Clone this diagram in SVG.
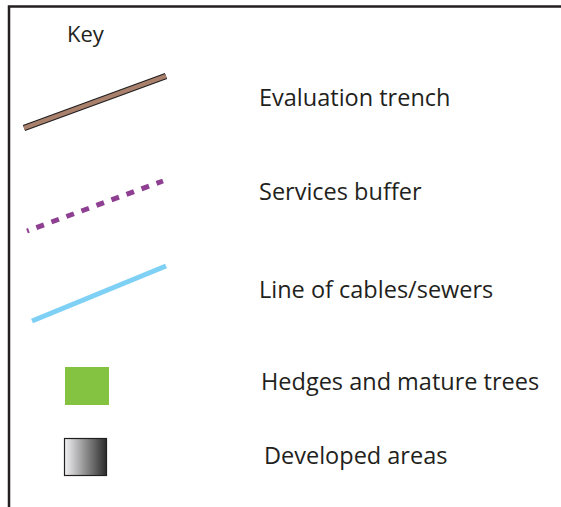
<svg xmlns="http://www.w3.org/2000/svg" width="561" height="507" viewBox="0 0 561 507">
<style>
text{font-family:"Open Sans","Liberation Sans",sans-serif;font-size:23.5px;fill:#231f20}
</style>
<defs>
<linearGradient id="dev" x1="0" y1="0" x2="1" y2="0">
<stop offset="0" stop-color="#f2f2f4"/>
<stop offset="1" stop-color="#2b2b2b"/>
</linearGradient>
</defs>
<rect width="561" height="507" fill="#fff"/>
<g id="border" fill="none" stroke="#231f20" stroke-width="2.5">
<path d="M9,507 V6.5 H561"/>
</g>
<text x="67" y="42" style="font-size:22px">Key</text>
<g id="connectors">
<g id="trench">
<path d="M24,128 L166,76" stroke="#231f20" stroke-width="6.5" fill="none"/>
<path d="M24,128 L166,76" stroke="#a8806b" stroke-width="4" fill="none"/>
</g>
<path id="services" d="M27,231 L163,181" stroke="#8e3f91" stroke-width="5" stroke-dasharray="8,8" stroke-dashoffset="6" fill="none"/>
<path id="cables" d="M32,321 L166,266" stroke="#7fd0f5" stroke-width="5" fill="none"/>
</g>
<g id="hedges"><rect x="65" y="367" width="44" height="38" fill="#84c341"/></g>
<g id="developed"><rect x="64.5" y="438.5" width="42" height="37" fill="url(#dev)" stroke="#231f20" stroke-width="1.2"/></g>
<text x="259" y="106">Evaluation trench</text>
<text x="259" y="200">Services buffer</text>
<text x="259" y="298">Line of cables/sewers</text>
<text x="261" y="390">Hedges and mature trees</text>
<text x="264" y="464">Developed areas</text>
</svg>
